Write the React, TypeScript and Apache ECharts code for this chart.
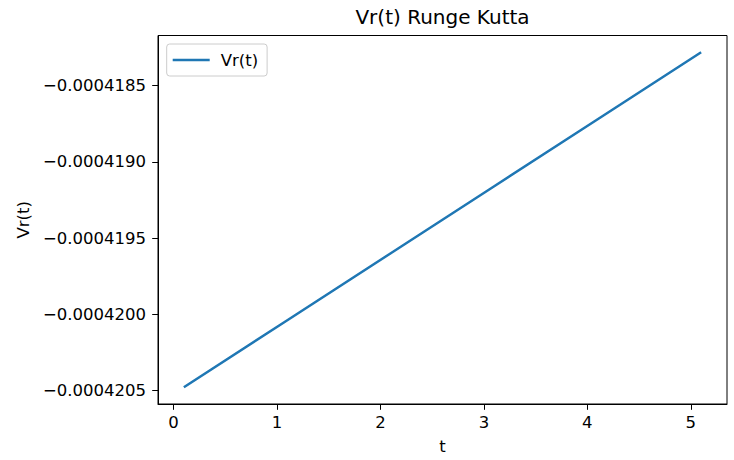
import React, { useEffect, useRef } from "react";
import * as echarts from "echarts";

const chartTitle = "Vr(t) Runge Kutta";
const seriesName = "Vr(t)";
const xAxisName = "t";
const yAxisName = "Vr(t)";
const tValues = [0.1, 1.1, 2.1, 3.1, 4.1, 5.1];
const vrValues = [-0.00042048, -0.00042004, -0.0004196, -0.00041916, -0.00041872, -0.00041828];
const xTicks = [0, 1, 2, 3, 4, 5];
const yTicks = [-0.0004205, -0.00042, -0.0004195, -0.000419, -0.0004185];
const xRange = [-0.15, 5.35];
const yRange = [-0.00042059, -0.00041817];

const FONT = "DejaVu Sans";

export default function App() {
  const ref = useRef<HTMLDivElement>(null);
  useEffect(() => {
    if (!ref.current) return;
    const chart = echarts.init(ref.current, undefined, { renderer: "svg" });
    const data = tValues.map((t, i) => [t, vrValues[i]]);
    chart.setOption({
      animation: false,
      backgroundColor: "#ffffff",
      textStyle: { fontFamily: FONT },
      title: {
        text: chartTitle,
        left: 442.5,
        top: 7,
        padding: 0,
        textAlign: "center",
        textStyle: { fontFamily: FONT, fontSize: 20, fontWeight: "normal", color: "#000" },
      },
      legend: {
        left: 166.7,
        top: 44,
        padding: [6, 9, 6, 6],
        itemWidth: 37,
        itemHeight: 2.5,
        icon: "rect",
        borderColor: "#cccccc",
        borderWidth: 1,
        borderRadius: 3,
        textStyle: { fontFamily: FONT, fontSize: 16.5, color: "#000", lineHeight: 20, padding: [0, 0, 0, 6] },
        data: [seriesName],
      },
      grid: {
        left: 158,
        right: 7,
        top: 35.5,
        bottom: 56,
        show: true,
        borderColor: "#000",
        borderWidth: 1,
        containLabel: false,
      },
      xAxis: {
        type: "value",
        min: xRange[0],
        max: xRange[1],
        name: xAxisName,
        nameLocation: "middle",
        nameGap: 34,
        nameTextStyle: { fontFamily: FONT, fontSize: 16.5, color: "#000" },
        axisLine: { show: true, onZero: false, lineStyle: { color: "#000", width: 1 } },
        axisTick: { show: true, length: 5.8, customValues: xTicks, lineStyle: { color: "#000", width: 1 } },
        axisLabel: { customValues: xTicks, margin: 10, fontFamily: FONT, fontSize: 16.5, color: "#000" },
        splitLine: { show: false },
      },
      yAxis: {
        type: "value",
        min: yRange[0],
        max: yRange[1],
        name: yAxisName,
        nameLocation: "middle",
        nameGap: 123,
        nameRotate: 90,
        nameTextStyle: { fontFamily: FONT, fontSize: 16.5, color: "#000" },
        axisLine: { show: true, onZero: false, lineStyle: { color: "#000", width: 1 } },
        axisTick: { show: true, length: 5.8, customValues: yTicks, lineStyle: { color: "#000", width: 1 } },
        axisLabel: {
          customValues: yTicks,
          margin: 12,
          fontFamily: FONT,
          fontSize: 16.5,
          color: "#000",
          formatter: (v: number) => (v < 0 ? "\u2212" : "") + Math.abs(v).toFixed(7),
        },
        splitLine: { show: false },
      },
      series: [
        {
          name: seriesName,
          type: "line",
          data,
          showSymbol: false,
          symbol: "none",
          color: "#1f77b4",
          lineStyle: { color: "#1f77b4", width: 2.5 },
        },
      ],
    });
    return () => chart.dispose();
  }, []);
  return <div ref={ref} style={{ position: "fixed", left: 0, top: 0, width: 734, height: 460 }} />;
}
